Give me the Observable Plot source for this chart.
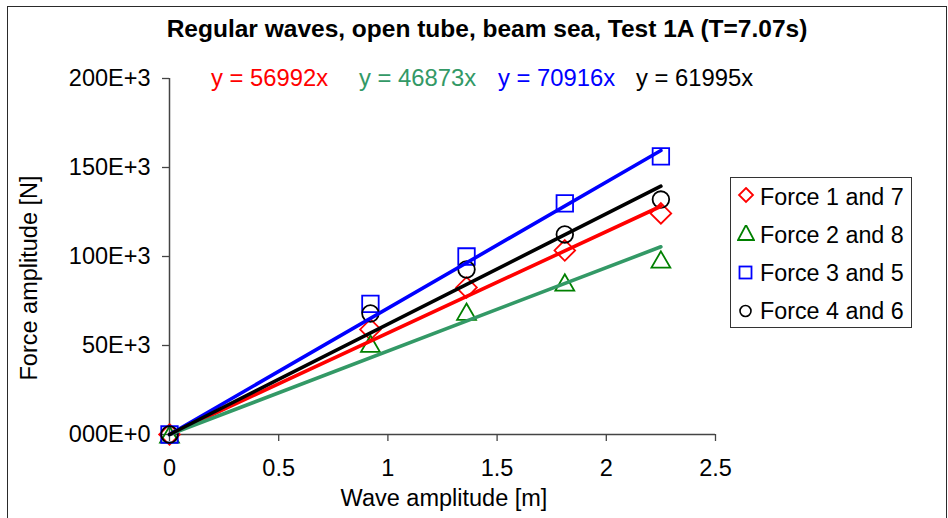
<!DOCTYPE html>
<html>
<head>
<meta charset="utf-8">
<script src="https://cdn.jsdelivr.net/npm/d3@7"></script>
<script src="https://cdn.jsdelivr.net/npm/@observablehq/plot@0.6"></script>
<style>
  html, body { margin: 0; padding: 0; background: #fff; }
  body { font-family: "Liberation Sans", Arial, sans-serif; color: #000; }
  #chart { position: relative; width: 948px; height: 518px; overflow: hidden; background: #fff; }
  #frame { position: absolute; left: 7px; top: 6px; width: 940px; height: 530px; border: 1.5px solid #2a2a2a; box-sizing: border-box; }
  #title { position: absolute; left: 28px; width: 918px; top: 17px; height: 24px; line-height: 24px; text-align: center; font-weight: bold; font-size: 24.5px; white-space: nowrap; }
  #plot { position: absolute; left: 0; top: 50px; }
  .eq { position: absolute; top: 66px; height: 23px; line-height: 23px; font-size: 23.8px; white-space: nowrap; }
  #ylabel { position: absolute; left: -121.5px; top: 266px; width: 300px; height: 24px; line-height: 24px; text-align: center; font-size: 23.5px; transform: rotate(-90deg); white-space: nowrap; }
  #xlabel { position: absolute; left: 244px; top: 486px; width: 400px; height: 24px; line-height: 24px; text-align: center; font-size: 23.5px; white-space: nowrap; }
  #legend { position: absolute; left: 730px; top: 177px; width: 182px; height: 151px; border: 1.5px solid #333; box-sizing: border-box; background: #fff; }
  .lg-row { position: absolute; left: 0; height: 24px; line-height: 24px; font-size: 23.3px; white-space: nowrap; }
  .lg-row svg { position: absolute; left: 6px; top: 3px; }
  .lg-row span { position: absolute; left: 29px; top: 0; }
</style>
</head>
<body>
<div id="chart">
  <div id="frame"></div>
  <div id="title"></div>
  <div id="plot"></div>
  <div id="eqs"></div>
  <div id="ylabel"></div>
  <div id="xlabel"></div>
  <div id="legend"></div>
</div>
<script>
// ---- data ----
const titleText = "Regular waves, open tube, beam sea, Test 1A (T=7.07s)";
const xLabel = "Wave amplitude [m]";
const yLabel = "Force amplitude [N]";
const seriesNames = ["Force 1 and 7", "Force 2 and 8", "Force 3 and 5", "Force 4 and 6"];
const waveAmp = [0, 0.92, 1.36, 1.81, 2.25];
const force17 = [0, 59000, 82600, 103400, 124200];
const force28 = [0, 51000, 69000, 85400, 98300];
const force35 = [0, 73400, 100000, 129800, 156200];
const force46 = [0, 68000, 92700, 112400, 132000];
const slopes = [56992, 46873, 70916, 61995];
const xTicks = [0, 0.5, 1, 1.5, 2, 2.5];
const xTickLabels = ["0", "0.5", "1", "1.5", "2", "2.5"];
const yTicks = [0, 50000, 100000, 150000, 200000];
const yTickLabels = ["000E+0", "50E+3", "100E+3", "150E+3", "200E+3"];

// ---- styles ----
const markerColors = ["#FF0000", "#008000", "#0000FF", "#000000"];
const lineColors = ["#FF0000", "#339966", "#0000FF", "#000000"];
const eqColors = ["#FF0000", "#339966", "#0000FF", "#000000"];
const symbols = ["diamond2", "triangle2", "square2", "circle"];
const radii = [9.3, 9, 10.5, 8.3];
const dys = [0, 2.7, 0, 0];
const eqLeft = [211, 359, 498, 636];

const forces = [force17, force28, force35, force46];
const trendEnd = d3.max(waveAmp);

document.getElementById("title").textContent = titleText;
document.getElementById("xlabel").textContent = xLabel;
document.getElementById("ylabel").textContent = yLabel;

const marks = [
  Plot.ruleX([0], {stroke: "#444", strokeWidth: 1.5}),
  Plot.ruleY([0], {stroke: "#444", strokeWidth: 1.5}),
  Plot.axisY({ticks: yTicks, tickSize: 7, tickPadding: 12, stroke: "#444", strokeWidth: 1.3,
    tickFormat: d => yTickLabels[yTicks.indexOf(d)], label: null, fill: "#000"}),
  Plot.axisX({ticks: xTicks, tickSize: 7, tickPadding: 18, stroke: "#444", strokeWidth: 1.3,
    tickFormat: d => xTickLabels[xTicks.indexOf(d)], label: null, fill: "#000"})
];

forces.forEach((vals, i) => {
  const pts = waveAmp.map((x, j) => ({x, y: vals[j]}));
  marks.push(Plot.dot(pts, {x: "x", y: "y", symbol: () => symbols[i], r: radii[i], dy: dys[i],
    stroke: markerColors[i], strokeWidth: 1.8, fill: "none"}));
});
forces.forEach((vals, i) => {
  const trend = [{x: 0, y: 0}, {x: trendEnd, y: slopes[i] * trendEnd}];
  marks.push(Plot.line(trend, {x: "x", y: "y", stroke: lineColors[i], strokeWidth: 3.6}));
});

const chart = Plot.plot({
  width: 948,
  height: 468,
  marginLeft: 169,
  marginRight: 233,
  marginTop: 28,
  marginBottom: 84,
  style: {fontFamily: '"Liberation Sans", Arial, sans-serif', fontSize: "23.5px", color: "#000", background: "transparent", overflow: "visible"},
  x: {domain: [0, 2.5]},
  y: {domain: [0, 200000]},
  symbol: {type: "identity"},
  marks
});
document.getElementById("plot").appendChild(chart);

// equations
const eqs = document.getElementById("eqs");
slopes.forEach((s, i) => {
  const el = document.createElement("div");
  el.className = "eq";
  el.style.left = eqLeft[i] + "px";
  el.style.color = eqColors[i];
  el.textContent = `y = ${s}x`;
  eqs.appendChild(el);
});

// legend
const legend = document.getElementById("legend");
const rowTops = [7, 45, 83, 121];
const swatch = [
  '<path d="M9 1 L16 8 L9 15 L2 8 Z" fill="none" stroke="#FF0000" stroke-width="1.8"/>',
  '<path d="M9 0 L17 15 L1 15 Z" fill="none" stroke="#008000" stroke-width="1.8"/>',
  '<rect x="2.5" y="1.5" width="12" height="12" fill="none" stroke="#0000FF" stroke-width="1.8"/>',
  '<circle cx="8.5" cy="9" r="5.5" fill="none" stroke="#000" stroke-width="1.6"/>'
];
const swatchTop = [2, 2, 4, 3];
seriesNames.forEach((name, i) => {
  const row = document.createElement("div");
  row.className = "lg-row";
  row.style.top = rowTops[i] + "px";
  row.innerHTML = `<svg width="18" height="18" style="top:${swatchTop[i]}px" viewBox="0 0 18 18">${swatch[i]}</svg><span>${name}</span>`;
  legend.appendChild(row);
});
</script>
</body>
</html>
